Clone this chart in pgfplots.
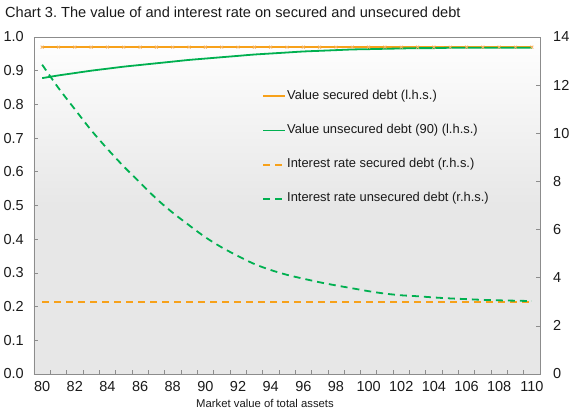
\documentclass[border=0pt]{standalone}
\usepackage{pgfplots}
\pgfplotsset{compat=1.18}
\usepackage{fontspec}
\setmainfont{Liberation Sans}
\frenchspacing
\definecolor{cOr}{HTML}{F7A11A}
\definecolor{cOrL}{HTML}{F6B565}
\definecolor{cGr}{HTML}{00B050}
\definecolor{cBg}{HTML}{E7E7E7}
\definecolor{cFr}{HTML}{8C8C8C}
\definecolor{cTx}{HTML}{1A1A1A}
\pgfdeclareverticalshading{bgshade}{100bp}{color(0bp)=(cBg); color(25bp)=(cBg); color(50bp)=(cBg); color(75bp)=(white); color(100bp)=(white)}
\newcommand\fs{\fontsize{14.5bp}{17bp}\selectfont}
\newcommand\fl{\fontsize{12.9bp}{15bp}\selectfont}
\pgfplotsset{
  common/.style={
    at={(0,0)}, anchor=south west, scale only axis,
    width=506bp, height=337bp,
    xmin=79.5, xmax=110.5,
    tick align=inside,
    major tick length=4bp, minor tick length=4bp,
    tick style={cFr, line width=0.6bp},
    tick label style={font=\fs, text=cTx},
    /pgf/number format/assume math mode=true,
  }
}
\begin{document}
\begin{tikzpicture}
\begin{axis}[common,
  ymin=0, ymax=1,
  axis line style={cFr, line width=0.8bp},
  axis background/.style={shade, shading=bgshade},
  xtick={80,82,...,110},
  minor xtick={80.5,81.5,...,109.5},
  major x tick style={draw=none},
  xtick pos=bottom, ytick pos=left,
  ytick={0,0.1,...,1.0},
  xticklabel style={anchor=north, inner sep=0pt, yshift=-7bp},
  yticklabel style={anchor=east, inner sep=0pt, xshift=-10bp,
    /pgf/number format/fixed, /pgf/number format/fixed zerofill, /pgf/number format/precision=1},
  clip=false,
]
\addplot[cOr, line width=1.8bp, mark=x, mark size=2bp, mark options={cOrL, line width=0.8bp, solid}] coordinates {
(80,0.97)(81,0.97)(82,0.97)(83,0.97)(84,0.97)(85,0.97)(86,0.97)(87,0.97)(88,0.97)(89,0.97)(90,0.97)
(91,0.97)(92,0.97)(93,0.97)(94,0.97)(95,0.97)(96,0.97)(97,0.97)(98,0.97)(99,0.97)(100,0.97)
(101,0.97)(102,0.97)(103,0.97)(104,0.97)(105,0.97)(106,0.97)(107,0.97)(108,0.97)(109,0.97)(110,0.97)};
\addplot[cGr, line width=1.8bp, smooth] coordinates {
(80,0.878)(81,0.886)(82,0.893)(83,0.900)(84,0.906)(85,0.912)(86,0.917)(87,0.922)(88,0.927)(89,0.932)(90,0.936)
(91,0.940)(92,0.944)(93,0.948)(94,0.951)(95,0.954)(96,0.957)(97,0.959)(98,0.961)(99,0.963)(100,0.964)
(101,0.965)(102,0.966)(103,0.967)(104,0.967)(105,0.968)(106,0.968)(107,0.968)(108,0.968)(109,0.968)(110,0.968)};
\end{axis}
\begin{axis}[common,
  ymin=0, ymax=14,
  hide x axis,
  axis y line*=right,
  y axis line style={draw=none},
  ytick={0,2,...,14},
  yticklabel style={anchor=west, inner sep=0pt, xshift=13bp},
  legend style={at={(0.4506,0.846)}, anchor=north west, draw=none, fill=none,
    font=\fl, text=cTx, inner sep=0pt, row sep=19.8bp,
    nodes={inner sep=1.2bp, text height=9bp, text depth=3bp}},
  legend cell align=left,
  legend image code/.code={\draw[#1] (0bp,0bp) -- (22bp,0bp);},
]
\addlegendimage{cOr, line width=1.8bp}
\addlegendentry{Value secured debt (l.h.s.)}
\addlegendimage{cGr, line width=1.8bp}
\addlegendentry{Value unsecured debt (90) (l.h.s.)}
\addplot[cOr, line width=1.8bp, dash pattern=on 7bp off 5bp] coordinates {
(80,3.0)(85,3.0)(90,3.0)(95,3.0)(100,3.0)(105,3.0)(110,3.0)};
\addlegendentry{Interest rate secured debt (r.h.s.)}
\addplot[cGr, line width=1.8bp, dash pattern=on 7bp off 5bp, smooth] coordinates {
(80,12.85)(81,11.88)(82,11.00)(83,10.13)(84,9.35)(85,8.62)(86,7.95)(87,7.28)(88,6.70)(89,6.18)(90,5.68)
(91,5.26)(92,4.90)(93,4.57)(94,4.32)(95,4.12)(96,3.96)(97,3.81)(98,3.68)(99,3.56)(100,3.44)
(101,3.34)(102,3.27)(103,3.23)(104,3.18)(105,3.14)(106,3.11)(107,3.08)(108,3.06)(109,3.045)(110,3.03)};
\addlegendentry{Interest rate unsecured debt (r.h.s.)}
\end{axis}
\node[anchor=base west, inner sep=0pt, font=\fontsize{14.6bp}{17bp}\selectfont, text=cTx] at (-29bp,356bp) {Chart 3. The value of and interest rate on secured and unsecured debt};
\node[anchor=base, inner sep=0pt, font=\fontsize{11.3bp}{13bp}\selectfont, text=cTx] at (231bp,-33.5bp) {Market value of total assets};
\pgfresetboundingbox
\path[use as bounding box] (-34bp,-36bp) rectangle (536bp,374bp);
\end{tikzpicture}
\end{document}
